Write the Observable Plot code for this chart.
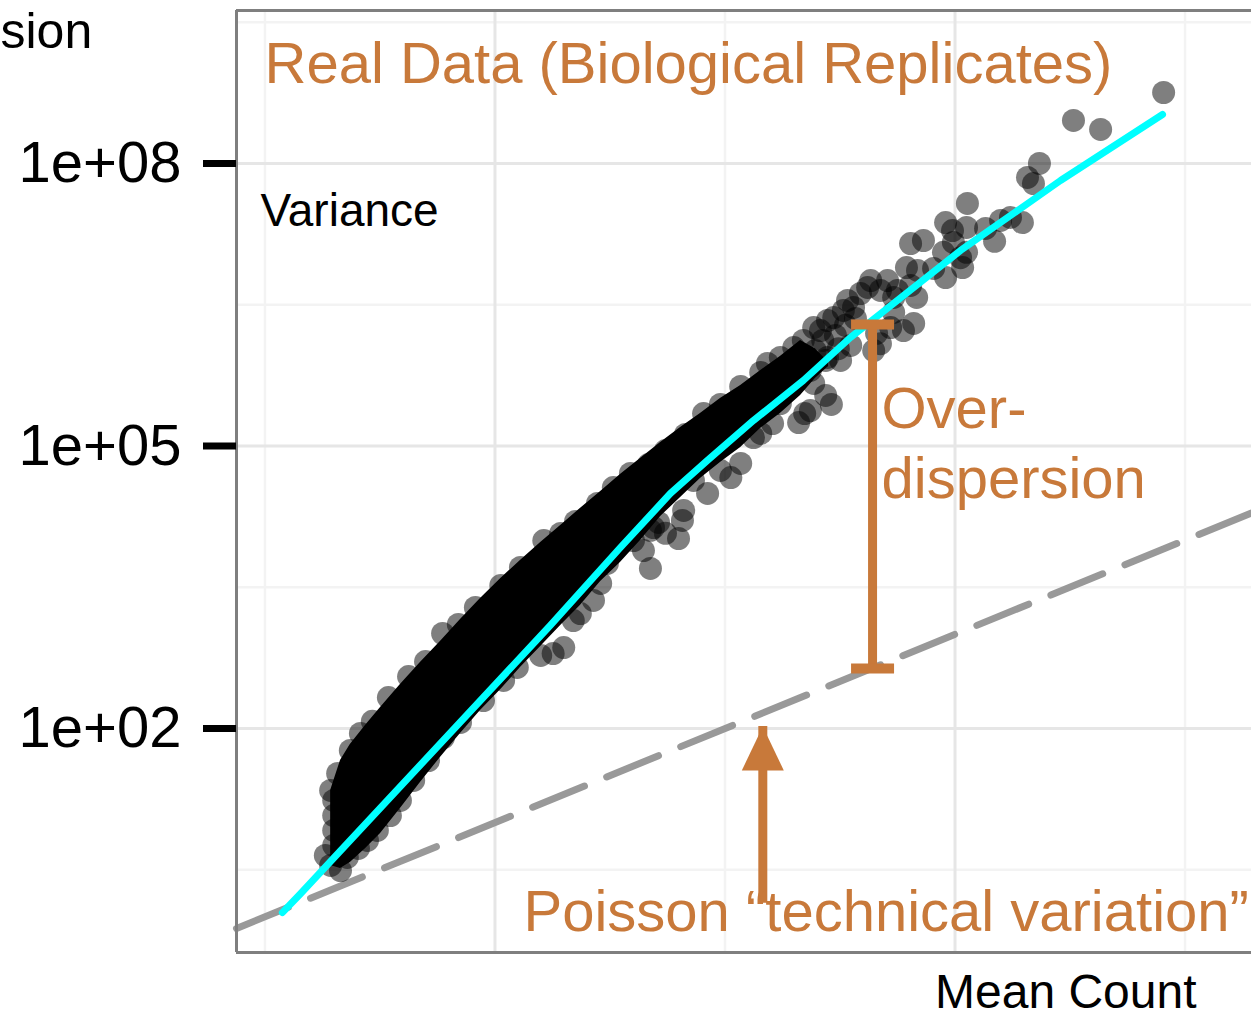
<!DOCTYPE html>
<html>
<head>
<meta charset="utf-8">
<script src="https://cdn.jsdelivr.net/npm/d3@7"></script>
<script src="https://cdn.jsdelivr.net/npm/@observablehq/plot@0.6"></script>
<style>
  html, body { margin: 0; padding: 0; background: #fff; overflow: hidden; }
  #chart svg { display: block; }
  g[aria-label="annotation"] { filter: drop-shadow(1px 3px 2.5px rgba(0, 0, 0, 0.35)); }
</style>
</head>
<body>
<div id="chart"></div>
<script>
// Mean count vs. variance per gene (log-log), with fitted trend and Poisson reference

const xDomain = [0.752, 19450];
const yDomain = [0.418, 4.21e9];

const yTicks = [1e2, 1e5, 1e8];
const yTickLabels = ["1e+02", "1e+05", "1e+08"];
const xGridMajor = [10, 1000];
const xGridMinor = [1, 100, 10000];
const yGridMajor = [1e2, 1e5, 1e8];
const yGridMinor = [3.16, 3160, 3.16e6, 3.16e9];

// dense core of the gene cloud: lower / upper variance at each mean
const coreMean = [1.93, 2.13, 2.35, 2.74, 3.18, 3.88, 4.74, 5.79, 7.08, 8.65, 10.6, 12.9, 15.8,
  19.3, 23.5, 28.8, 35.1, 42.9, 52.5, 64.1, 78.2, 95.5, 117, 143, 174, 213, 247, 282];
const coreVarLow = [3.51, 3.26, 3.78, 5.32, 7.67, 14.1, 26.7, 49.2, 88.5, 155, 259, 445, 743,
  1240, 2020, 3640, 5790, 9910, 17800, 28400, 45200, 66800, 96400, 154000, 221000, 344000, 521000, 698000];
const coreVarHigh = [22.0, 45.7, 67.6, 108, 167, 293, 502, 839, 1440, 2400, 3920, 6080, 9440,
  14300, 21700, 32900, 49800, 73600, 109000, 157000, 221000, 319000, 439000, 634000, 891000, 1320000, 1080000, 771000];

// individual genes visible around and beyond the core
const geneMean = [
  1.93, 2.07, 2.35, 2.60, 2.93, 3.44, 4.21, 4.99, 5.92, 6.93, 8.22, 10.6, 12.9, 16.3, 19.3, 22.4,
  27.9, 32.7, 38.8, 46.5, 55.1, 67.3, 80.7, 95.5, 117, 143, 153, 174, 199, 219, 243, 279,
  1.99, 1.99, 1.99, 1.99,
  1.83, 1.93, 2.13, 2.28, 2.55, 2.79, 3.08, 3.51, 3.88, 4.43, 5.14, 5.97, 7.08, 8.91, 10.9, 12.5,
  15.8, 17.9, 19.9, 21.9, 23.5, 26.8, 28.8, 30.8, 40.0, 44.2, 47.4, 47.4, 48.9, 51.4, 55.1, 62.8,
  65.3, 66.1, 72.9, 84.0, 95.5, 106, 117, 133, 143, 161, 174, 199, 209, 222, 235, 243,
  274, 279, 290, 318, 352, 443,
  193, 213, 247, 266, 302, 334, 369, 235, 274, 311,
  260, 297, 327, 341, 362, 388, 417, 430, 474, 509, 541, 562, 525, 541, 456, 474,
  597, 615, 641, 641, 661, 681, 687, 729, 807, 891, 910, 910, 975, 984, 1057, 1079,
  1122, 1122, 1132, 1358, 1486, 1578, 1742, 1963, 2065, 2193, 2328, 3273, 4295, 8070
];
const geneVar = [
  22.0, 33.3, 58.4, 88.5, 119, 213, 356, 514, 1020, 1271, 1928, 3302, 5129, 9910, 11780, 15800,
  24500, 36200, 51100, 63550, 89500, 132400, 221000, 276000, 429000, 603000, 752000, 871000, 1110000, 1320000, 1810000, 2150000,
  17.2, 11.9, 8.26, 5.72,
  4.48, 3.51, 3.10, 4.27, 5.32, 6.47, 8.26, 11.9, 17.2, 28.1, 45.7, 80.2, 116, 198, 324, 445,
  596, 625, 724, 1400, 1660, 2290, 3470, 5650, 9910, 7760, 5000, 12700, 13600, 15400, 11800, 10400,
  16200, 20700, 43000, 31300, 55000, 46200, 65200, 123000, 136000, 173000, 282000, 461000, 177000, 221000, 238000, 461000,
  344000, 871000, 276000, 809000, 1170000, 1030000,
  716000, 809000, 1030000, 1320000, 1490000, 1910000, 2260000, 634000, 809000, 1080000,
  1680000, 2310000, 2750000, 3510000, 2960000, 4160000, 4820000, 5710000, 4480000, 5710000, 3780000, 4480000, 1810000, 2620000, 1570000, 1220000,
  1680000, 7850000, 14100000, 5060000, 2000000, 3780000, 7310000, 15200000, 7670000, 11400000, 6150000, 23600000, 19400000, 14500000, 10000000, 7850000,
  20900000, 11400000, 37600000, 20400000, 14900000, 24800000, 26700000, 23600000, 71000000, 61200000, 100000000, 286000000, 230000000, 567000000
];

// fitted mean-variance trend
const fitMean = [1.19, 1.43, 17.4, 35.1, 57.9, 83.9, 133, 219, 351, 1057, 2875, 7980];
const fitVar = [1.11, 1.77, 1242, 8356, 31330, 70150, 186600, 495500, 1419000, 11910000, 65920000, 331100000];

// Poisson expectation: variance equals the mean
const poissonMean = [0.752, 19450];
const poissonVar = [0.752, 19450];

// over-dispersion bar, from the Poisson line up to the trend
const overMean = [438];
const overLow = [433];
const overHigh = [1.95e6];

// arrow pointing up at the Poisson line
const arrowMean = [146];
const arrowTail = [2.9];
const arrowTip = [105];

const titleText = ["sion"];
const yLabel = ["Variance"];
const xLabel = ["Mean Count"];
const headline = ["Real Data (Biological Replicates)"];
const overLabel = ["Over-\ndispersion"];
const poissonLabel = ["Poisson \u201Ctechnical variation\u201D"];

const orange = "#c8793a";

const core = coreMean.map((m, i) => ({mean: m, low: coreVarLow[i], high: coreVarHigh[i]}));
const genes = geneMean.map((m, i) => ({mean: m, variance: geneVar[i]}));
const fit = fitMean.map((m, i) => ({mean: m, variance: fitVar[i]}));
const poisson = poissonMean.map((m, i) => ({mean: m, variance: poissonVar[i]}));
const over = overMean.map((m, i) => ({mean: m, low: overLow[i], high: overHigh[i]}));
const overEnds = over.flatMap(d => [{mean: d.mean, v: d.low}, {mean: d.mean, v: d.high}]);
const arrow = arrowMean.map((m, i) => ({mean: m, tail: arrowTail[i], tip: arrowTip[i]}));

// flat cap for the over-dispersion bar
const capSymbol = {draw(ctx) { ctx.rect(-21.5, -5, 43, 10); }};
// filled arrowhead with its tip at the anchor point
const headSymbol = {draw(ctx) { ctx.moveTo(0, 0); ctx.lineTo(21, 44); ctx.lineTo(-21, 44); ctx.closePath(); }};

const chart = Plot.plot({
  width: 1251,
  height: 1017,
  marginTop: 10,
  marginRight: 0,
  marginBottom: 65,
  marginLeft: 236,
  style: {fontFamily: "'Liberation Sans', Arial, Helvetica, sans-serif", fontSize: "58px", background: "white", overflow: "visible"},
  x: {type: "log", domain: xDomain, axis: null},
  y: {type: "log", domain: yDomain, axis: null},
  marks: [
    Plot.ruleX(xGridMinor, {stroke: "#f3f3f3", strokeWidth: 2.5}),
    Plot.ruleY(yGridMinor, {stroke: "#f3f3f3", strokeWidth: 2.5}),
    Plot.ruleX(xGridMajor, {stroke: "#e6e6e6", strokeWidth: 3}),
    Plot.ruleY(yGridMajor, {stroke: "#e6e6e6", strokeWidth: 3}),
    Plot.line(poisson, {x: "mean", y: "variance", stroke: "#999999", strokeWidth: 7, strokeDasharray: "56,24"}),
    Plot.areaY(core, {x: "mean", y1: "low", y2: "high", fill: "black"}),
    Plot.dot(genes, {x: "mean", y: "variance", r: 11.5, fill: "black", fillOpacity: 0.5, stroke: "none"}),
    Plot.line(fit, {x: "mean", y: "variance", stroke: "#00ffff", strokeWidth: 7}),
    Plot.ruleX([xDomain[0]], {stroke: "#7f7f7f", strokeWidth: 3}),
    Plot.ruleY(yDomain, {stroke: "#7f7f7f", strokeWidth: 3}),
    Plot.ruleX(over, {x: "mean", y1: "low", y2: "high", stroke: orange, strokeWidth: 9, ariaLabel: "annotation"}),
    Plot.dot(overEnds, {x: "mean", y: "v", r: 1, symbol: capSymbol, fill: orange, stroke: "none", ariaLabel: "annotation"}),
    Plot.ruleX(arrow, {x: "mean", y1: "tail", y2: "tip", insetTop: 30, stroke: orange, strokeWidth: 9, ariaLabel: "annotation"}),
    Plot.dot(arrow, {x: "mean", y: "tip", r: 1, symbol: headSymbol, fill: orange, stroke: "none", ariaLabel: "annotation"}),
    Plot.axisY({ticks: yTicks, tickFormat: d => yTickLabels[yTicks.indexOf(d)], tickSize: 33, tickPadding: 22,
      strokeWidth: 7, fontSize: 58, label: null, anchor: "left"}),
    Plot.text(titleText, {text: d => d, frameAnchor: "top-left", dx: -236, dy: 37, textAnchor: "start",
      lineAnchor: "bottom", fontSize: 50, fill: "black"}),
    Plot.text(yLabel, {text: d => d, frameAnchor: "top-left", dx: 24, dy: 215, textAnchor: "start",
      lineAnchor: "bottom", fontSize: 46, fill: "black"}),
    Plot.text(xLabel, {text: d => d, frameAnchor: "bottom-right", dx: -55, dy: 55, textAnchor: "end",
      lineAnchor: "bottom", fontSize: 48, fill: "black"}),
    Plot.text(headline, {text: d => d, frameAnchor: "top-left", dx: 28, dy: 72, textAnchor: "start",
      lineAnchor: "bottom", fontSize: 58, fill: orange, ariaLabel: "annotation"}),
    Plot.text(overLabel, {text: d => d, frameAnchor: "top-left", dx: 645, dy: 487, textAnchor: "start",
      lineAnchor: "bottom", lineHeight: 1.2, fontSize: 58, fill: orange, ariaLabel: "annotation"}),
    Plot.text(poissonLabel, {text: d => d, frameAnchor: "top-left", dx: 287, dy: 920, textAnchor: "start",
      lineAnchor: "bottom", fontSize: 58, fill: orange, ariaLabel: "annotation"})
  ]
});

document.getElementById("chart").append(chart);
</script>
</body>
</html>
